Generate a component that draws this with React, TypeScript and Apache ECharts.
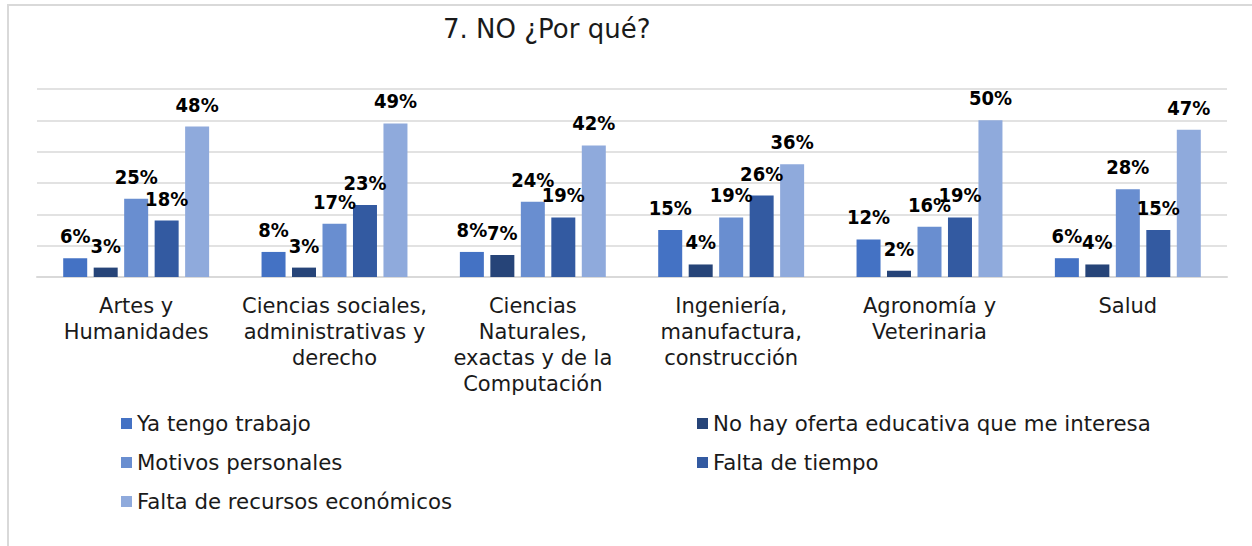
import React, { useEffect, useRef } from "react";
import * as echarts from "echarts";

const categories = [
  "Artes y\nHumanidades",
  "Ciencias sociales,\nadministrativas y\nderecho",
  "Ciencias\nNaturales,\nexactas y de la\nComputación",
  "Ingeniería,\nmanufactura,\nconstrucción",
  "Agronomía y\nVeterinaria",
  "Salud",
];

const seriesNames = [
  "Ya tengo trabajo",
  "No hay oferta educativa que me interesa",
  "Motivos personales",
  "Falta de tiempo",
  "Falta de recursos económicos",
];

const yaTengoTrabajo = [6, 8, 8, 15, 12, 6];
const noHayOferta = [3, 3, 7, 4, 2, 4];
const motivosPersonales = [25, 17, 24, 19, 16, 28];
const faltaDeTiempo = [18, 23, 19, 26, 19, 15];
const faltaDeRecursos = [48, 49, 42, 36, 50, 47];

const seriesColors = ["#4472C4", "#264478", "#698ED0", "#335AA1", "#8FAADC"];

const FONT = "'DejaVu Sans', Verdana, sans-serif";

export default function App() {
  const ref = useRef<HTMLDivElement>(null);

  useEffect(() => {
    if (!ref.current) return;
    const chart = echarts.init(ref.current, undefined, { renderer: "svg" });
    const values = [yaTengoTrabajo, noHayOferta, motivosPersonales, faltaDeTiempo, faltaDeRecursos];

    const legendText = { fontFamily: FONT, fontSize: 21.3, lineHeight: 20, color: "#1a1a1a" };

    chart.setOption({
      animation: false,
      backgroundColor: "#ffffff",
      textStyle: { fontFamily: FONT },
      title: {
        text: "7. NO ¿Por qué?",
        left: 438,
        top: 11,
        textStyle: { fontFamily: FONT, fontSize: 26, fontWeight: "normal", color: "#1a1a1a" },
      },
      graphic: [
        { type: "line", shape: { x1: 7, y1: 5, x2: 1252, y2: 5 }, style: { stroke: "#d9d9d9", lineWidth: 2 } },
        { type: "line", shape: { x1: 8, y1: 5, x2: 8, y2: 546 }, style: { stroke: "#d9d9d9", lineWidth: 2 } },
      ],
      legend: [
        {
          orient: "vertical",
          left: 116,
          top: 408,
          itemWidth: 11,
          itemHeight: 11,
          itemGap: 18,
          icon: "rect",
          data: [seriesNames[0], seriesNames[2], seriesNames[4]],
          textStyle: legendText,
        },
        {
          orient: "vertical",
          left: 692,
          top: 408,
          itemWidth: 11,
          itemHeight: 11,
          itemGap: 18,
          icon: "rect",
          data: [seriesNames[1], seriesNames[3]],
          textStyle: legendText,
        },
      ],
      grid: { left: 37, right: 25, top: 89, bottom: 269, containLabel: false },
      xAxis: {
        type: "category",
        data: categories,
        axisLine: { show: true, lineStyle: { color: "#d9d9d9", width: 2 } },
        axisTick: { show: false },
        axisLabel: {
          interval: 0,
          margin: 16,
          fontFamily: FONT,
          fontSize: 21,
          lineHeight: 26,
          color: "#1a1a1a",
          align: "center",
        },
      },
      yAxis: {
        type: "value",
        min: 0,
        max: 60,
        interval: 10,
        axisLabel: { show: false },
        axisLine: { show: false },
        axisTick: { show: false },
        splitLine: { show: true, lineStyle: { color: "#d9d9d9", width: 1.5 } },
      },
      series: seriesNames.map((name, i) => ({
        name,
        type: "bar",
        data: values[i],
        barWidth: 24,
        barGap: "27%",
        itemStyle: { color: seriesColors[i] },
        label: {
          show: true,
          position: "top",
          distance: 12,
          formatter: "{c}%",
          fontFamily: "'DejaVu Sans Condensed', 'DejaVu Sans', sans-serif",
          fontWeight: "bold",
          fontSize: 20,
          color: "#000000",
        },
      })),
    });

    return () => chart.dispose();
  }, []);

  return (
    <div
      ref={ref}
      style={{ position: "absolute", left: 0, top: 0, width: 1252, height: 546 }}
    />
  );
}
